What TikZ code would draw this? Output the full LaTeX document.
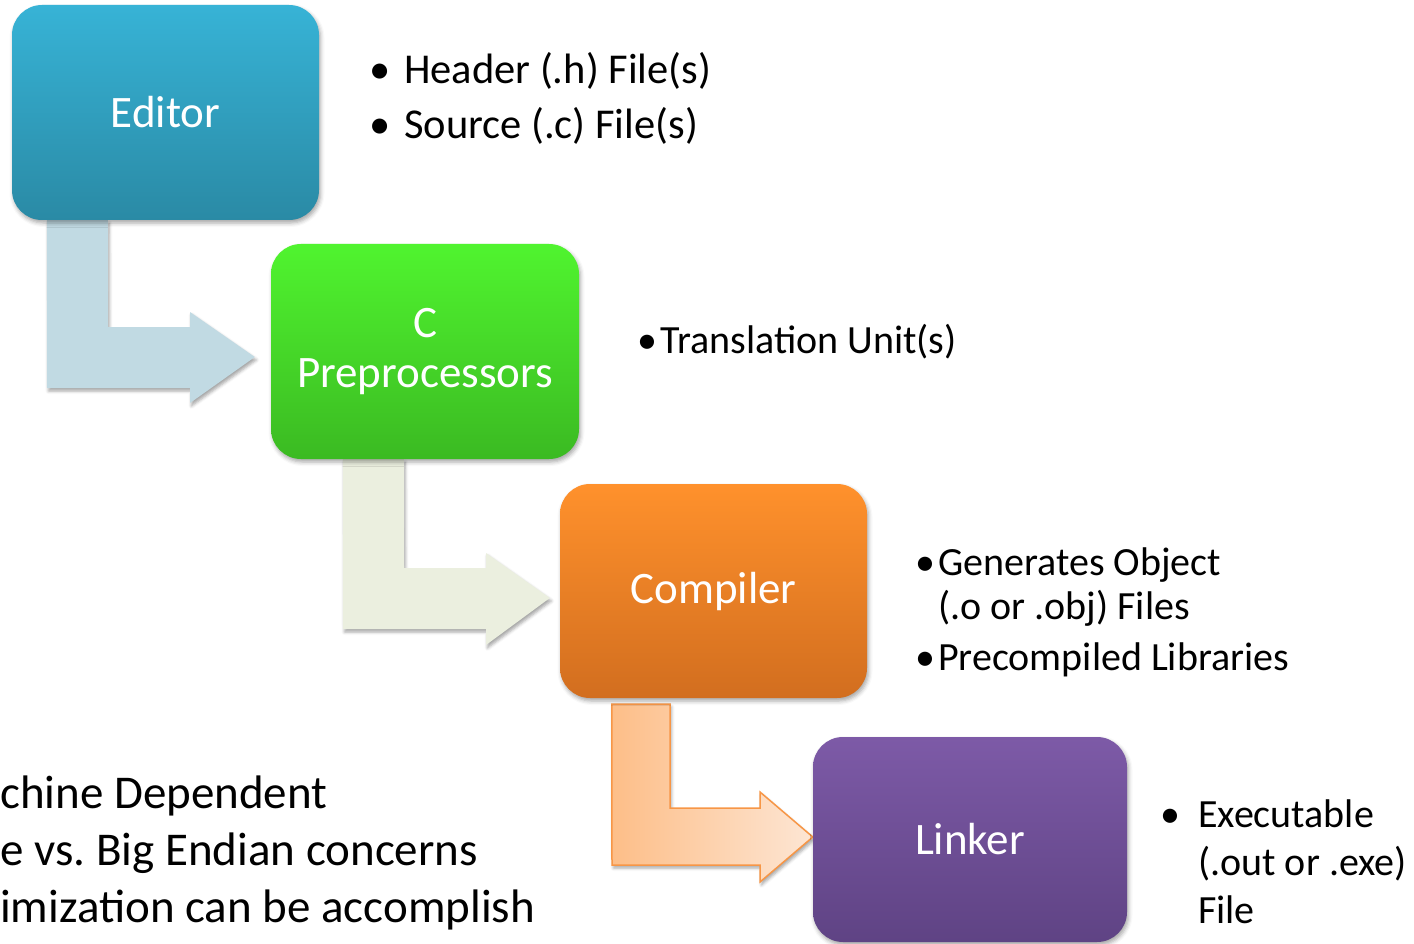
\documentclass[tikz,border=0pt]{standalone}
\usepackage{fontspec}
\setmainfont{Carlito}
\usetikzlibrary{shadows.blur,calc}
\definecolor{edTop}{HTML}{37B3D6}
\definecolor{edBot}{HTML}{2A8AA5}
\definecolor{ppTop}{HTML}{50F42F}
\definecolor{ppBot}{HTML}{3BBA22}
\definecolor{coTop}{HTML}{FF912C}
\definecolor{coBot}{HTML}{D26E1F}
\definecolor{liTop}{HTML}{7D5AA7}
\definecolor{liBot}{HTML}{5F4384}
\definecolor{arrA}{HTML}{C1DAE3}
\definecolor{arrB}{HTML}{EBEFDF}
\definecolor{arrCl}{HTML}{FDBE88}
\definecolor{arrCr}{HTML}{FDE6D4}
\definecolor{arrCd}{HTML}{F79646}
\pgfdeclarelayer{bg}
\pgfsetlayers{bg,main}
\frenchspacing
\tikzset{
  stepbox/.style={rounded corners=30pt, minimum width=307pt, minimum height=215pt,
    text=white, font=\fontsize{45}{50}\selectfont, align=center, inner sep=0pt,
    blur shadow={shadow xshift=1.5pt, shadow yshift=-3pt, shadow blur radius=4pt, shadow opacity=35}},
  bentarrow/.style={blur shadow={shadow xshift=1.5pt, shadow yshift=-3pt, shadow blur radius=3pt, shadow opacity=35}},
  txt/.style={font=\fontsize{40}{44}\selectfont, anchor=base west, inner sep=0pt, text=black},
  toptxt/.style={font=\fontsize{42.5}{46}\selectfont, anchor=base west, inner sep=0pt, text=black},
  bigtxt/.style={font=\fontsize{47}{56}\selectfont, anchor=base west, inner sep=0pt, text=black}
}
\begin{document}
\begin{tikzpicture}[x=1pt,y=-1pt]
\useasboundingbox (0,0) rectangle (1414,944);

% boxes
\node[stepbox, top color=edTop, bottom color=edBot] (editor) at (165.5,112.5) {Editor};
\node[stepbox, top color=ppTop, bottom color=ppBot, minimum width=308pt] (pre) at (425,351.5) {C\\Preprocessors};
\node[stepbox, top color=coTop, bottom color=coBot, minimum height=214pt] (comp) at (713.5,591) {Compiler};
\node[stepbox, top color=liTop, bottom color=liBot, minimum width=314pt, minimum height=205pt] (link) at (970,839.5) {Linker};

% bent arrows
\begin{pgfonlayer}{bg}
\fill[arrA, bentarrow] ([xshift=35pt]editor.south west) -- ([xshift=96pt]editor.south west)
  -- (108,327) -- (190,327) -- (190,312) -- ([xshift=-16pt,yshift=-5.5pt]pre.west)
  -- (190,403) -- (190,388) -- (47,388) -- cycle;
\fill[arrB, bentarrow] ([xshift=72pt]pre.south west) -- ([xshift=133pt]pre.south west)
  -- (404,568) -- (486,568) -- (486,553) -- ([xshift=-10pt,yshift=-7pt]comp.west)
  -- (486,645) -- (486,629) -- (343,629) -- cycle;
\coordinate (c3a) at ([xshift=52pt,yshift=-6pt]comp.south west);
\draw[arrCd, line width=1.5pt, left color=arrCl, right color=arrCr, bentarrow, line join=miter]
  (c3a) -- (670,704) -- (670,808) -- (760,808) -- (760,792) -- ([yshift=2.5pt]link.west)
  -- (760,882) -- (760,865) -- (612,865) -- cycle;
\end{pgfonlayer}

% editor notes
\node[toptxt] (b1) at (369,84) {\textbullet};
\node[toptxt] (t1) at (404,84) {Header (.h) File(s)};
\node[toptxt] (b2) at (369,139) {\textbullet};
\node[toptxt] (t2) at (404,139) {Source (.c) File(s)};

% preprocessor notes
\node[txt] (b3) at (637,353) {\textbullet};
\node[txt] (t3) at (660,353) {Translation Unit(s)};

% compiler notes
\node[txt] (b4) at (915,575) {\textbullet};
\node[txt] (t4) at (938,575) {Generates Object};
\node[txt] (t4b) at (938,619) {(.o or .obj) Files};
\node[txt] (b5) at (915,670) {\textbullet};
\node[txt] (t5) at (938,670) {Precompiled Libraries};

% linker notes
\node[txt] (b6) at (1160,827) {\textbullet};
\node[txt] (t6) at (1198,827) {Executable};
\node[txt] (t6b) at (1198,875) {(.out or .exe)};
\node[txt] (t6c) at (1198,923) {File};

% bottom-left text
\node[bigtxt] (m1) at (0,808) {chine Dependent};
\node[bigtxt] (m2) at (0,865) {e vs. Big Endian concerns};
\node[bigtxt] (m3) at (0,922) {imization can be accomplish};
\end{tikzpicture}
\end{document}
